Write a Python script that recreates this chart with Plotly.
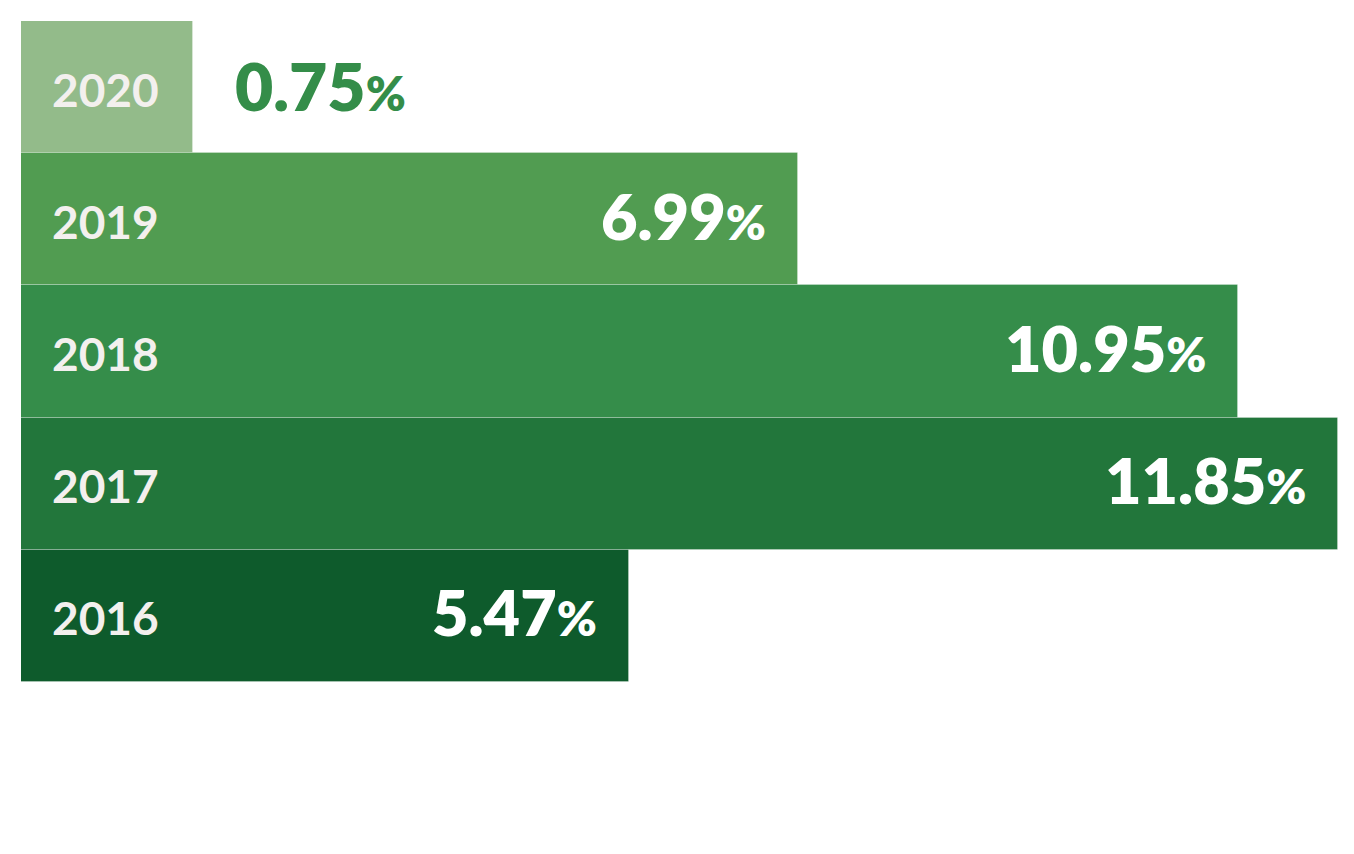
import plotly.graph_objects as go

# data
years = ['2020', '2019', '2018', '2017', '2016']
growth = [0.75, 6.99, 10.95, 11.85, 5.47]
bar_colors = ['#93BB8A', '#519C51', '#358D4A', '#22763B', '#0E5B2C']

# the smallest bar is stretched so its year label fits
MIN_BAR = 1.55
bar_len = [max(v, MIN_BAR) for v in growth]

FONT = 'Lato'

fig = go.Figure()
fig.add_trace(go.Bar(
    y=years,
    x=bar_len,
    orientation='h',
    marker=dict(color=bar_colors, line=dict(color='rgba(255,255,255,0.25)', width=1)),
    hoverinfo='skip',
    showlegend=False
))

annotations = []
for i, (yr, v, L) in enumerate(zip(years, growth, bar_len)):
    # year label at the left of each bar
    annotations.append(dict(
        x=0, y=i, xref='x', yref='y', xanchor='left', yanchor='middle',
        xshift=29, yshift=-2, showarrow=False,
        text=yr,
        font=dict(family=FONT, size=46, color='#F3F0EE', weight=700)
    ))
    label = f'{v:.2f}<span style="font-size:48px">%</span>'
    if v < MIN_BAR:
        # too short: value goes outside, in green
        annotations.append(dict(
            x=L, y=i, xref='x', yref='y', xanchor='left', yanchor='middle',
            xshift=40, yshift=2, showarrow=False, text=label,
            font=dict(family=FONT, size=66, color='#348D49', weight=800)
        ))
    else:
        annotations.append(dict(
            x=L, y=i, xref='x', yref='y', xanchor='right', yanchor='middle',
            xshift=-30, yshift=4, showarrow=False, text=label,
            font=dict(family=FONT, size=63, color='#FFFFFF', weight=800)
        ))

fig.update_layout(
    width=1354, height=854,
    margin=dict(l=13, r=24, t=13, b=180),
    paper_bgcolor='white', plot_bgcolor='white',
    bargap=0,
    annotations=annotations,
    xaxis=dict(range=[0, max(bar_len)], visible=False, fixedrange=True),
    yaxis=dict(type='category', categoryorder='array', categoryarray=years,
               range=[len(years) - 0.5, -0.5], visible=False, fixedrange=True)
)

fig.write_html('out.html')
